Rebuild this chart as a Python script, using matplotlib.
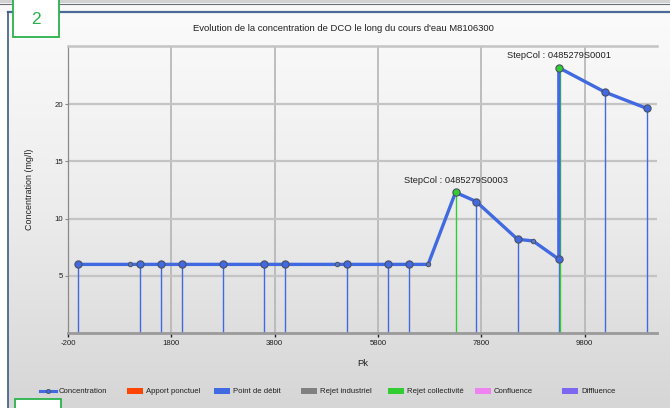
import numpy as np
import matplotlib
matplotlib.use("Agg")
import matplotlib.pyplot as plt
from matplotlib.colors import LinearSegmentedColormap
from matplotlib.lines import Line2D
from matplotlib.patches import Patch, Rectangle

plt.rcParams['font.family'] = ['Liberation Sans', 'DejaVu Sans']

# DCO concentration along the river (Pk in m, concentration in mg/l)
pk = [0, 1000, 1200, 1600, 2000, 2800, 3600, 4000, 5000, 5200, 6000,
      6400, 6770, 7300, 7700, 8500, 8800, 9300, 9300, 10200, 11000]
conc = [6, 6, 6, 6, 6, 6, 6, 6, 6, 6, 6,
        6, 6, 12.3, 11.5, 8.2, 8.05, 6.45, 23.2, 21.05, 19.65]
# point type: "debit" = Point de debit, "collec" = Rejet collectivite, "" = plain node
kind = ["debit", "", "debit", "debit", "debit", "debit", "debit", "debit", "", "debit", "debit",
        "debit", "", "collec", "debit", "debit", "", "debit", "collec", "debit", "debit"]

title = "Evolution de la concentration de DCO le long du cours d'eau M8106300"
x_ticks = [-200, 1800, 3800, 5800, 7800, 9800]
y_ticks = [5, 10, 15, 20]
step_pk = [7300, 9300]
step_conc = [12.3, 23.2]
step_names = ["StepCol : 0485279S0003", "StepCol : 0485279S0001"]
legend_names = ["Concentration", "Apport ponctuel", "Point de débit", "Rejet industriel",
                "Rejet collectivité", "Confluence", "Diffluence"]
legend_colors = [None, "#ff4500", "#4169e1", "#808080", "#32cd32", "#ee82ee", "#7b68ee"]

BLUE = "#4169e1"
GREEN = "#32cd32"
EDGE = "#4a5060"

W, H = 670, 408
fig = plt.figure(figsize=(W / 100, H / 100), dpi=100)
fig.patch.set_facecolor("white")

# page background, panel border and tab decorations (pixel coordinates)
bg = fig.add_axes([0, 0, 1, 1])
bg.set_xlim(0, W)
bg.set_ylim(H, 0)
bg.axis("off")
bg.set_zorder(0)
bg.add_patch(Rectangle((0, 0), W, 12, facecolor="#f8f8f8", edgecolor="none"))
bg.add_patch(Rectangle((0, 0), W, 3.2, facecolor="#d2d2d2", edgecolor="none"))
bg.plot([0, W], [3.5, 3.5], color="#6a6f7a", lw=0.8)
grad = LinearSegmentedColormap.from_list("panel", ["#fbfbfb", "#ececec", "#d6d6d6"])
bg.imshow(np.linspace(0, 1, 200)[:, None], cmap=grad, aspect="auto",
          extent=[8, W, H, 12], zorder=1)
bg.plot([8, W], [11.5, 11.5], color="#4d6a96", lw=1.6, zorder=2)
bg.plot([8, 8], [11.5, H], color="#3d5a8a", lw=1.2, zorder=2)

ax = fig.add_axes([68 / W, 1 - 333 / H, (657 - 68) / W, (333 - 46) / H])
ax.set_zorder(1)
ax.patch.set_alpha(0)

ax.set_xlim(-200, 11200)
ax.set_ylim(0, 25.1)

# grid
for xv in x_ticks[1:]:
    ax.axvline(xv, color="#b4b4b4", lw=1.2, zorder=0)
for yv in y_ticks:
    ax.axhline(yv, color="#c4c4c4", lw=1.6, zorder=0)

# stems
pk_a = np.array(pk)
conc_a = np.array(conc)
kind_a = np.array(kind)
deb = kind_a == "debit"
col = kind_a == "collec"
ax.vlines(pk_a[deb], 0, conc_a[deb], colors=BLUE, lw=1.0, zorder=1)
ax.vlines(pk_a[col] + 15, 0, conc_a[col], colors=GREEN, lw=1.0, zorder=1)

# concentration line
ax.plot(pk, conc, color=BLUE, lw=2.4, zorder=3, solid_capstyle="round")
plain = kind_a == ""
ax.plot(pk_a[deb], conc_a[deb], "o", ms=5.2, mfc=BLUE, mec=EDGE, mew=0.8, zorder=4)
ax.plot(pk_a[col], conc_a[col], "o", ms=5.2, mfc=GREEN, mec=EDGE, mew=0.8, zorder=4)
ax.plot(pk_a[plain], conc_a[plain], "o", ms=3.2, mfc="#5a78c8", mec=EDGE, mew=0.7, zorder=4)

for xv, yv, name in zip(step_pk, step_conc, step_names):
    ax.annotate(name, (xv, yv), xytext=(0, 8.8), textcoords="offset points",
                ha="center", va="center", fontsize=6.7, color="#202020")

# axes styling
ax.spines["right"].set_visible(False)
ax.spines["top"].set_color("#c4c4c4")
ax.spines["top"].set_linewidth(1.8)
ax.spines["left"].set_color("#8a8a8a")
ax.spines["left"].set_linewidth(0.9)
ax.spines["bottom"].set_color("#9a9a9a")
ax.spines["bottom"].set_linewidth(2.0)

ax.set_xticks(x_ticks)
ax.set_xticklabels([str(v) for v in x_ticks])
ax.set_yticks(y_ticks)
ax.tick_params(axis="x", length=3, width=1, color="#202020", pad=2,
               labelsize=5.6, labelcolor="#202020")
ax.tick_params(axis="y", length=2.5, width=0.8, color="#8a8a8a", pad=1,
               labelsize=5.6, labelcolor="#202020")

ax.set_ylabel("Concentration (mg/l)", fontsize=6.4, color="#202020")
ax.yaxis.set_label_coords((34 - 68) / 589, 0.5)
ax.set_xlabel("Pk", fontsize=6.8, color="#202020")
ax.xaxis.set_label_coords(0.5, (333 - 363) / 287)
ax.xaxis.label.set_va("center")

fig.text(343 / W, 1 - 28.5 / H, title, ha="center", va="center", fontsize=6.8,
         color="#202020")

# legend: one entry per fixed slot along the bottom
leg_x = [40, 127, 214, 301, 388, 475, 562]
for xpos, name, c in zip(leg_x, legend_names, legend_colors):
    if c is None:
        h = Line2D([], [], color=BLUE, lw=2.2, marker="o", ms=3, mfc=BLUE, mec=EDGE, mew=0.6)
        hl = 2.0
    else:
        h = Patch(facecolor=c, edgecolor="none")
        hl = 2.1
    leg = fig.legend(handles=[h], labels=[name], loc="center left",
                     bbox_to_anchor=(xpos / W, 1 - 391.5 / H), frameon=False,
                     fontsize=5.6, handlelength=hl, handleheight=0.9,
                     handletextpad=0.35, borderpad=0, borderaxespad=0)
    for t in leg.get_texts():
        t.set_color("#202020")

# tab boxes on top
ov = fig.add_axes([0, 0, 1, 1])
ov.set_xlim(0, W)
ov.set_ylim(H, 0)
ov.axis("off")
ov.set_zorder(2)
ov.patch.set_alpha(0)
ov.add_patch(Rectangle((12.7, -2), 46, 39, facecolor="white", edgecolor="#2bb24c", lw=1.3))
ov.text(36, 19, "2", ha="center", va="center", fontsize=12.5, color="#2bb24c")
ov.add_patch(Rectangle((15, 398.5), 46, 14, facecolor="white", edgecolor="#2bb24c", lw=1.3))

fig.savefig("out.png", dpi=100)
